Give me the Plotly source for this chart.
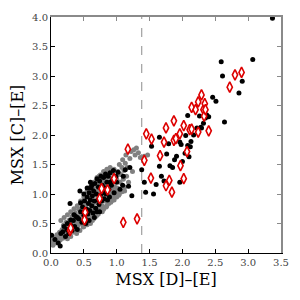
import plotly.graph_objects as go

# ---- data ----
gray_x = [0.00,0.01,0.03,0.04,0.05,0.07,0.08,0.09,0.10,0.12,0.13,0.14,0.15,0.16,0.17,0.18,0.19,0.20,
          0.21,0.22,0.23,0.24,0.25,0.26,0.27,0.28,0.29,0.30,0.31,0.32,0.33,0.34,0.35,
          0.36,0.37,0.38,0.39,0.40,0.41,0.42,0.43,0.44,0.45,0.46,0.47,0.48,0.49,0.50,0.51,0.52,0.53,
          0.54,0.55,0.56,0.57,0.58,0.59,0.60,0.61,0.62,0.63,0.64,0.65,
          0.55,0.58,0.62,0.48,0.52,0.44,0.40,0.60,
          0.66,0.67,0.68,0.69,0.70,0.71,0.72,0.73,0.74,0.75,0.76,0.77,0.78,0.79,0.80,0.81,0.82,0.83,
          0.84,0.85,0.86,0.87,0.88,0.89,0.90,0.91,0.92,0.93,0.94,0.95,0.96,0.97,0.98,0.99,
          0.70,0.74,0.78,0.80,0.84,0.88,0.72,0.76,0.82,0.86,0.90,0.94,
          1.00,1.01,1.02,1.03,1.04,1.05,1.06,1.07,1.08,1.09,1.10,1.11,1.12,1.13,1.14,1.15,1.16,1.18,
          1.20,1.22,1.24,1.26,1.28,1.30,1.33,1.36,1.42,1.47,
          0.50,0.55,0.60,0.65,0.68,0.72,0.76,0.80,0.84,0.88,0.92,0.96,1.00,1.04,1.08,1.12,
          0.62,0.70,0.78,0.86,0.94,1.00,
          0.35,0.40,0.45,0.50,0.55,0.60,0.65,0.70,0.75,0.80,0.85,0.90,0.25,0.20,0.30]
gray_y = [0.16,0.22,0.13,0.19,0.26,0.17,0.23,0.31,0.20,0.27,0.35,0.22,0.55,0.30,0.40,0.25,0.47,0.33,
          0.29,0.43,0.52,0.37,0.24,0.46,0.31,0.56,0.40,0.28,0.50,0.62,0.35,0.45,0.57,
          0.40,0.68,0.52,0.33,0.61,0.46,0.74,0.55,0.38,0.66,0.50,0.82,0.60,0.44,0.72,0.90,0.55,0.80,
          0.65,0.48,0.95,0.74,0.60,0.86,1.05,0.68,0.92,0.55,0.80,1.12,
          0.85,1.00,0.78,0.70,0.62,0.58,0.50,0.88,
          0.72,0.98,0.86,1.22,0.64,1.05,0.92,1.30,0.78,1.12,0.97,1.25,0.70,1.05,1.18,0.88,1.35,1.00,
          1.22,0.80,1.10,1.40,0.95,1.28,1.15,0.86,1.35,1.05,1.22,0.95,1.42,1.12,1.30,1.02,
          1.00,1.15,1.10,0.98,1.12,1.20,0.85,1.05,1.25,1.30,1.00,1.10,
          1.25,1.10,1.38,0.98,1.50,1.20,1.33,1.05,1.45,1.58,1.25,1.40,1.12,1.52,1.66,1.30,1.45,1.20,
          1.60,1.72,1.38,1.75,1.66,1.78,1.70,1.62,1.64,1.66,
          0.45,0.52,0.50,0.58,0.62,0.66,0.72,0.74,0.78,0.84,0.88,0.90,0.95,1.00,1.04,1.05,
          0.62,0.75,0.80,0.86,0.95,1.05,
          0.75,0.80,0.88,0.95,1.05,1.12,1.20,1.28,1.32,1.38,1.42,1.45,0.65,0.60,0.70]

black_x = [0.01,0.06,0.14,0.11,0.18,0.22,0.24,0.27,0.29,0.30,0.32,0.34,0.36,0.38,0.40,0.42,0.44,0.45,
           0.47,0.48,0.50,0.51,0.52,0.54,0.55,0.56,0.57,0.58,0.59,0.60,0.61,0.62,0.63,0.64,0.65,0.66,
           0.67,0.68,0.69,0.70,0.71,0.72,0.73,0.74,0.75,0.76,0.77,0.78,0.79,0.80,0.81,0.82,0.83,0.84,
           0.85,0.86,0.87,0.88,0.89,0.90,0.92,0.94,0.96,0.99,1.02,1.05,1.09,1.13,1.18,1.23,1.20,
           0.66,0.53,0.74,0.60,
           0.45,0.50,0.55,0.62,0.58,0.70,0.35,0.40,0.30,0.25,0.20,0.15,0.90,0.95,0.80,1.00,1.10,
           1.38,1.42,1.44,1.53,1.60,1.65,1.65,1.68,1.72,1.76,1.79,1.81,1.85,1.91,1.96,1.96,1.98,2.00,
           2.04,2.05,2.08,2.08,2.10,2.13,2.17,2.22,2.26,2.29,2.35,2.37,2.28,2.32,2.40,2.46,2.51,2.64,
           2.59,2.61,2.86,2.91,3.07,3.37,1.56,1.88,2.12]
black_y = [0.30,0.23,0.12,0.17,0.36,0.28,0.40,0.33,0.84,0.47,0.38,0.55,0.45,0.62,0.40,0.58,1.05,0.70,
           0.52,0.78,0.64,0.88,0.58,0.74,0.95,0.66,0.84,1.02,0.72,0.90,1.10,0.80,0.97,0.68,1.05,0.88,
           1.18,0.76,1.00,1.26,0.90,1.12,0.82,1.22,0.98,1.30,0.88,1.15,1.02,1.28,0.92,1.10,1.34,1.00,
           1.20,0.90,1.30,1.08,0.95,1.36,1.15,1.25,1.02,1.30,1.37,1.08,1.15,1.41,1.13,0.97,1.45,
           0.60,0.50,0.70,1.20,
           0.85,1.00,1.10,1.15,0.55,0.70,0.65,0.60,0.56,0.50,0.45,0.33,1.20,1.40,1.05,1.20,1.30,
           1.41,1.20,1.03,1.81,1.16,1.96,1.47,1.30,1.22,1.68,1.85,1.48,1.45,1.64,1.88,1.20,1.84,1.55,
           1.69,1.99,1.82,2.33,1.63,1.89,2.00,2.12,2.32,2.12,2.29,2.34,2.13,2.20,2.31,2.64,2.57,2.22,
           3.24,3.00,2.71,2.91,3.28,3.98,1.00,1.58,1.80]

red_x = [0.29,0.30,0.52,0.51,0.74,0.77,0.86,0.96,1.10,1.17,1.31,1.42,1.45,1.52,1.53,1.66,1.72,1.75,
         1.75,1.80,1.84,1.87,1.87,1.90,1.96,1.97,2.02,2.02,2.07,2.11,2.14,2.14,2.20,2.24,2.24,2.29,
         2.32,2.33,2.34,2.35,2.40,2.72,2.80,2.90]
red_y = [0.38,0.42,0.69,0.56,0.92,1.09,1.07,1.26,0.52,1.76,0.58,1.57,2.02,1.27,1.93,1.65,1.88,1.14,
         2.12,1.23,1.03,1.91,2.24,1.94,2.02,1.48,2.16,1.26,1.72,2.09,2.10,2.47,2.43,2.56,2.05,2.68,
         2.43,2.32,2.53,2.43,2.07,2.81,3.02,3.06]

threshold_x = 1.38
x_ticks = [0.0, 0.5, 1.0, 1.5, 2.0, 2.5, 3.0, 3.5]
y_ticks = [0.0, 0.5, 1.0, 1.5, 2.0, 2.5, 3.0, 3.5, 4.0]

serif = "DejaVu Serif, Liberation Serif, serif"

fig = go.Figure()
fig.add_trace(go.Scatter(x=gray_x, y=gray_y, mode="markers",
                         marker=dict(size=5, color="#808080", line=dict(width=0)), showlegend=False))
fig.add_trace(go.Scatter(x=black_x, y=black_y, mode="markers",
                         marker=dict(size=5, color="black", line=dict(width=0)), showlegend=False))
fig.add_trace(go.Scatter(x=red_x, y=red_y, mode="markers",
                         marker=dict(symbol="diamond-tall", size=7.5, color="white",
                                     line=dict(width=1.6, color="#dd0000")), showlegend=False))
# invisible trace to anchor the mirrored (top/right) axes
fig.add_trace(go.Scatter(x=[x_ticks[0]], y=[y_ticks[0]], xaxis="x2", yaxis="y2", mode="markers",
                         marker=dict(size=1, opacity=0), showlegend=False, hoverinfo="skip"))

fig.add_shape(type="line", x0=threshold_x, x1=threshold_x, y0=y_ticks[0], y1=y_ticks[-1],
              xref="x", yref="y", line=dict(color="#a0a0a0", width=1.2, dash="dash"), layer="below")

common = dict(ticks="inside", ticklen=4, tickwidth=1, showgrid=False, zeroline=False, automargin=False)
fig.update_layout(
    width=292, height=292,
    margin=dict(l=43, r=19, t=9, b=47),
    paper_bgcolor="white", plot_bgcolor="white",
    font=dict(family=serif, color="#444444", size=10),
    xaxis=dict(range=[0, 3.5], tickvals=x_ticks, ticktext=[f"{v:.1f}" for v in x_ticks],
               linecolor="black", linewidth=1, tickcolor="black",
               title=dict(text="MSX [D]–[E]", font=dict(size=16, color="black", family=serif), standoff=6),
               **common),
    yaxis=dict(range=[0, 4.0], tickvals=y_ticks, ticktext=[f"{v:.1f}" for v in y_ticks],
               linecolor="black", linewidth=1, tickcolor="black",
               title=dict(text="MSX [C]–[E]", font=dict(size=16, color="black", family=serif), standoff=6),
               **common),
    xaxis2=dict(range=[0, 3.5], tickvals=x_ticks, overlaying="x", side="top", showticklabels=False,
                linecolor="#8a8a8a", linewidth=2, tickcolor="#8a8a8a", **common),
    yaxis2=dict(range=[0, 4.0], tickvals=y_ticks, overlaying="y", side="right", showticklabels=False,
                linecolor="#8a8a8a", linewidth=2, tickcolor="#8a8a8a", **common),
)

fig.write_html("out.html")
